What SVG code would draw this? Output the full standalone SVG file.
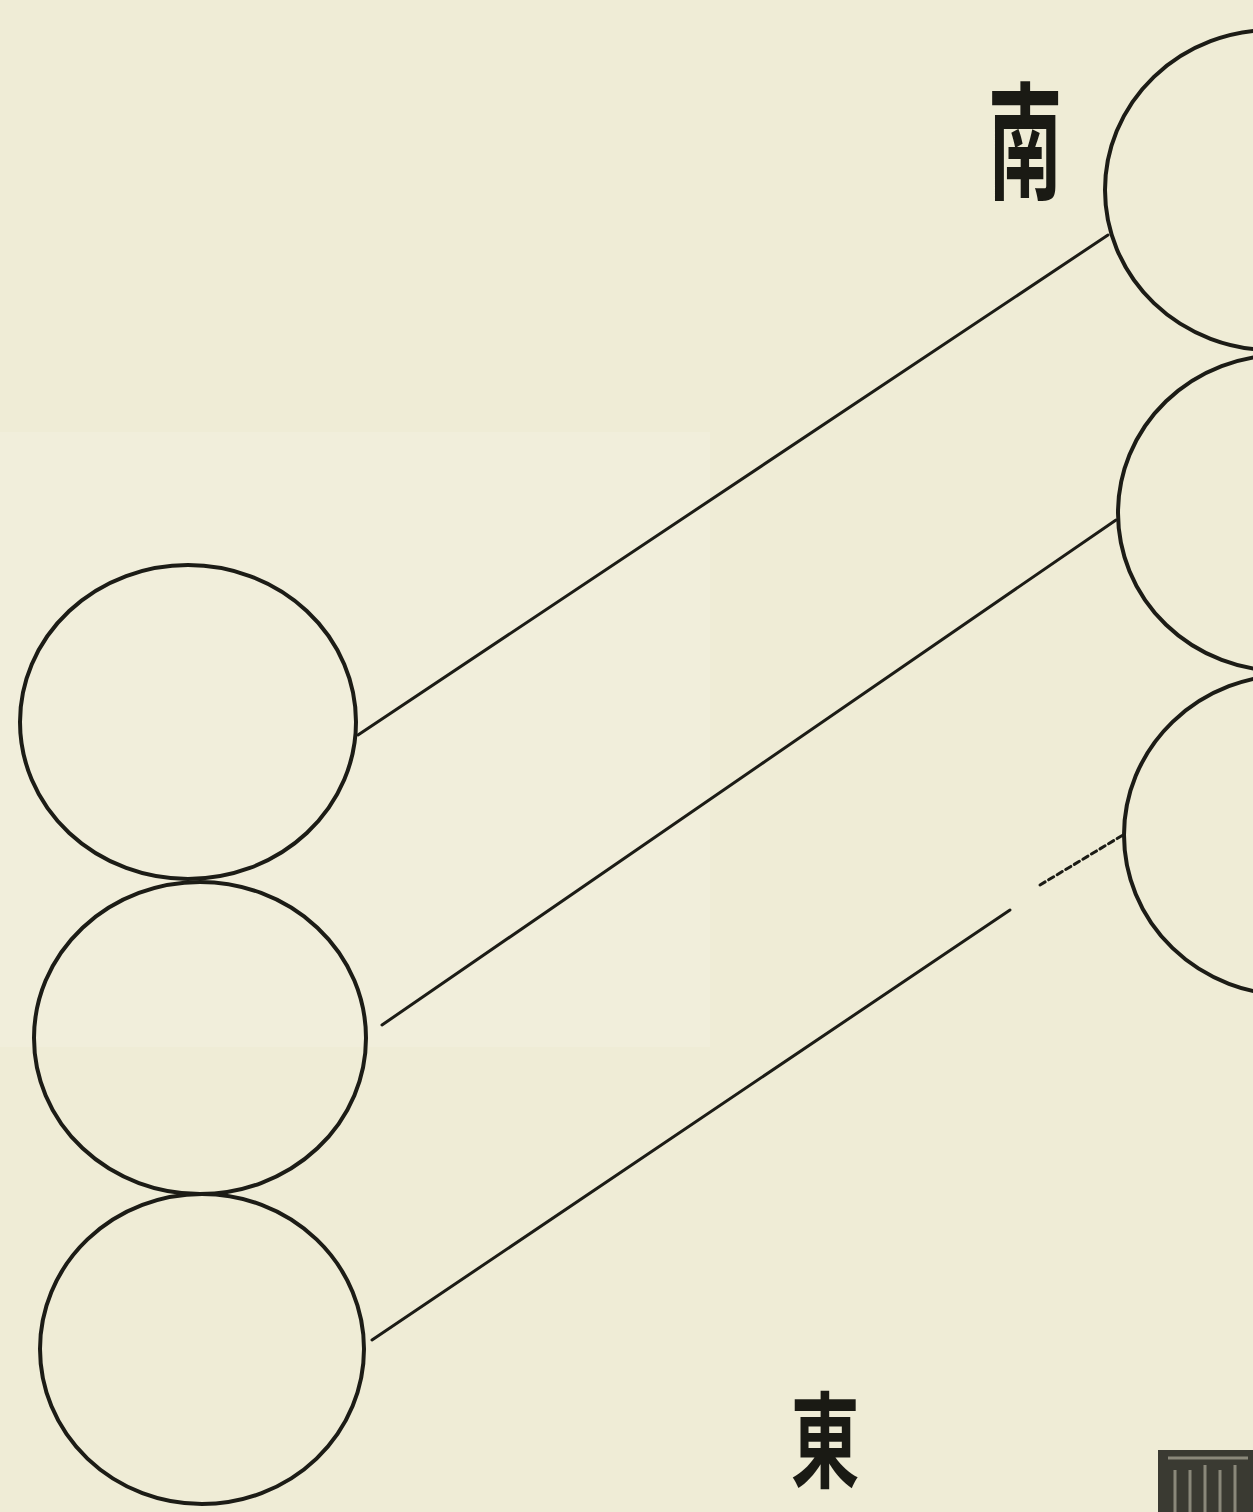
<svg xmlns="http://www.w3.org/2000/svg" width="1253" height="1512" viewBox="0 0 1253 1512">
<style>
.c{fill:none;stroke:#1c1c16;stroke-width:4}
.l{stroke:#1c1c16;stroke-width:3;stroke-linecap:round}
.t{font-family:"Noto Sans CJK SC","Noto Sans CJK TC",sans-serif;font-weight:bold;fill:#1a1a14}
</style>
<rect width="1253" height="1512" fill="#efecd6"/>
<rect x="0" y="432" width="710" height="615" fill="#f1eedb"/>
<g id="left-circles">
<g id="L1"><ellipse class="c" cx="188" cy="722" rx="168" ry="157"/></g>
<g id="L2"><ellipse class="c" cx="200" cy="1038" rx="166" ry="156"/></g>
<g id="L3"><ellipse class="c" cx="202" cy="1349" rx="162" ry="155"/></g>
</g>
<g id="right-circles">
<g id="R1"><ellipse class="c" cx="1272" cy="190" rx="167" ry="160"/></g>
<g id="R2"><ellipse class="c" cx="1282" cy="513" rx="164" ry="158"/></g>
<g id="R3"><ellipse class="c" cx="1290" cy="835" rx="166" ry="160"/></g>
</g>
<g id="connectors">
<line class="l" x1="358" y1="735" x2="1108" y2="235"/>
<line class="l" x1="382" y1="1025" x2="1116" y2="520"/>
<line class="l" x1="372" y1="1340" x2="1010" y2="910"/>
<line class="l" x1="1040" y1="885" x2="1123" y2="835" stroke-width="2" stroke-dasharray="6 4"/>
</g>
<g id="label-south"><text class="t" font-size="128" transform="translate(1025,190) scale(0.58,1)" text-anchor="middle">南</text></g>
<g id="label-east"><text class="t" font-size="104" transform="translate(825,1480) scale(0.66,1)" text-anchor="middle">東</text></g>
<g id="corner-mark">
<rect x="1158" y="1450" width="95" height="62" fill="#3a3a32"/>
<path d="M1168 1458h80M1175 1470v42M1190 1470v42M1205 1465v47M1220 1470v42M1235 1465v47" stroke="#8a887a" stroke-width="3"/>
</g>
</svg>
